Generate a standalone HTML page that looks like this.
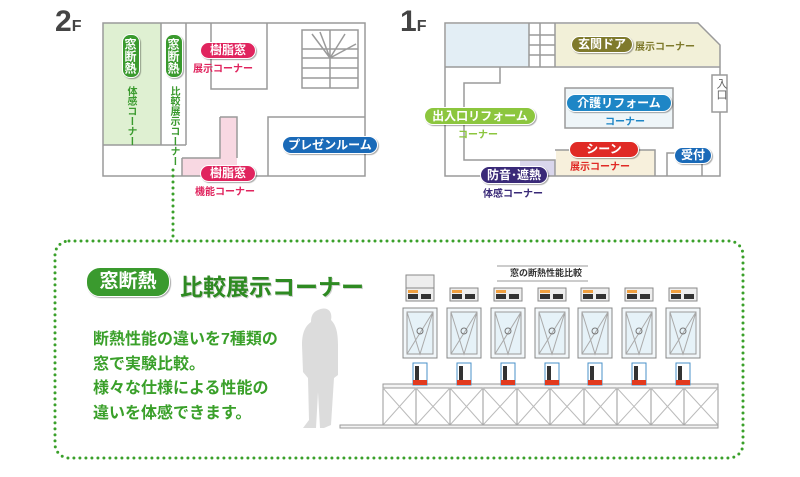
<!DOCTYPE html>
<html><head><meta charset="utf-8"><style>
body{margin:0;width:800px;height:477px;background:#fff;overflow:hidden;position:relative;font-family:"Liberation Sans","Noto Sans CJK JP",sans-serif;}
.a{position:absolute;white-space:nowrap;font-weight:bold;}
.pill{position:absolute;color:#fff;font-weight:bold;border-radius:9px;text-align:center;white-space:nowrap;box-shadow:1px 1px 1px rgba(0,0,0,.35);border:1px solid #fff;}
.v{writing-mode:vertical-rl;text-orientation:upright;}
</style></head><body>
<svg width="800" height="477" style="position:absolute;left:0;top:0">
<rect x="103" y="23" width="58" height="122" fill="#dff0d2"/>
<path d="M220 117 H237 V176 H182 V158 H220 Z" fill="#f8d8e2"/>
<g fill="none" stroke="#9a9a9a" stroke-width="1.5">
<rect x="103" y="23" width="262" height="153"/>
<path d="M103 145 H186 M161 23 V145 M186 23 V145 M211 23 V89 H267 V23 M268 176 V117 H365"/>
<path d="M220 117 H237 V158 M182 158 H220 V117 M182 158 V176"/>
<rect x="302" y="30" width="56" height="58"/>
<path d="M302 49 H358 M302 58 H358 M302 68 H358 M302 78 H358 M330 30 V88 M330 58 L312 34 M330 58 L320 32 M330 58 L345 34 M330 58 L356 44"/>
</g>
<rect x="446" y="24" width="83" height="43" fill="#e3eef5"/>
<path d="M555 24 H698 L720 45 V66 H555 Z" fill="#f2f0d8"/>
<rect x="556" y="150" width="99" height="26" fill="#f7f0dc"/>
<rect x="520" y="160" width="35" height="16" fill="#d9d6ec"/>
<rect x="565" y="88" width="108" height="40" fill="#eef5f8"/>
<g fill="none" stroke="#9a9a9a" stroke-width="1.5">
<path d="M445 23 H698 L720 45 V176 H445 Z"/>
<path d="M445 67 H720 M529 23 V67 M555 23 V67"/>
<path d="M529 35 H555 M529 45 H555 M529 55 H555 M540 23 V67"/>
<path d="M500 67 V83 H464 V160 H555 V176 M555 150 H655 V176 M667 176 V153 H702 V176"/>
<rect x="565" y="88" width="108" height="40"/>
<rect x="712" y="75" width="15" height="37" fill="#fff"/>
</g>
<line x1="173" y1="170" x2="173" y2="240" stroke="#3aa02a" stroke-width="3" stroke-linecap="round" stroke-dasharray="0 6"/>
<rect x="55" y="241" width="688" height="217" rx="14" fill="none" stroke="#3aa02a" stroke-width="3" stroke-linecap="round" stroke-dasharray="0 6"/>
<path d="M318 310 C326 306 333 310 331 320 C335 324 338 330 338 345 L338 375 L334 378 L331 425 L324 428 L320 428 L318 392 L316 428 L303 428 L309 420 L308 378 L303 372 L302 345 C302 330 307 325 311 322 C311 316 313 312 318 310Z" fill="#dcdcdc"/>
<g stroke="#999" fill="none" stroke-width="1">
<line x1="497" y1="266" x2="588" y2="266"/><line x1="497" y1="281" x2="588" y2="281"/>
<rect x="383" y="384" width="335" height="4" fill="#f4f4f4"/>
<path d="M383 388 V425 M416 388 V425 M450 388 V425 M483 388 V425 M517 388 V425 M550 388 V425 M584 388 V425 M617 388 V425 M651 388 V425 M684 388 V425 M718 388 V425"/>
<path stroke="#bbb" d="M383 388 L416 425 M416 388 L383 425 M416 388 L450 425 M450 388 L416 425 M450 388 L483 425 M483 388 L450 425 M483 388 L517 425 M517 388 L483 425 M517 388 L550 425 M550 388 L517 425 M550 388 L584 425 M584 388 L550 425 M584 388 L617 425 M617 388 L584 425 M617 388 L651 425 M651 388 L617 425 M651 388 L684 425 M684 388 L651 425 M684 388 L718 425 M718 388 L684 425"/>
<rect x="340" y="425" width="378" height="3" fill="#f4f4f4"/>
</g>
<g id="w">
<rect x="403" y="308" width="34" height="50" fill="#f2f7fa" stroke="#888"/>
<rect x="407" y="312" width="26" height="42" fill="#e6f2f8" stroke="#999"/>
<path d="M407 354 L433 312 M407 312 L420 354 L433 312" stroke="#aaa" fill="none"/>
<circle cx="420" cy="331" r="3" fill="none" stroke="#777"/>
<rect x="406" y="288" width="28" height="13" fill="#eee" stroke="#888"/>
<rect x="408" y="294" width="10" height="5" fill="#333"/><rect x="421" y="294" width="10" height="5" fill="#333"/>
<rect x="408" y="290" width="10" height="3" fill="#f0a040"/>
<rect x="413" y="363" width="14" height="22" fill="#fff" stroke="#4a90c8"/>
<rect x="415" y="366" width="4" height="14" fill="#333"/>
<rect x="413" y="380" width="14" height="5" fill="#e23a1e"/>
</g>
<use href="#w" x="44"/><use href="#w" x="88"/><use href="#w" x="132"/><use href="#w" x="175"/><use href="#w" x="219"/><use href="#w" x="263"/>
<rect x="406" y="275" width="28" height="13" fill="#eee" stroke="#888"/>
</svg>
<div class="a" style="left:55px;top:5px;font-size:30px;color:#444">2<span style="font-size:16px">F</span></div>
<div class="a" style="left:400px;top:5px;font-size:30px;color:#444">1<span style="font-size:16px">F</span></div>
<div class="pill v" style="left:122px;top:34px;width:16px;padding:3px 0;font-size:12px;background:#3a9a2e;border-radius:8px">窓断熱</div>
<div class="pill v" style="left:165px;top:34px;width:16px;padding:3px 0;font-size:12px;background:#3a9a2e;border-radius:8px">窓断熱</div>
<div class="a v" style="left:124px;top:86px;font-size:10px;color:#3a9a2e;line-height:12px">体感コーナー</div>
<div class="a v" style="left:167px;top:86px;font-size:10px;color:#3a9a2e;line-height:12px">比較展示コーナー</div>
<div class="pill" style="left:200px;top:42px;width:54px;height:15px;line-height:15px;font-size:12px;background:#e0245e">樹脂窓</div>
<div class="a" style="left:193px;top:60px;font-size:10px;color:#e0245e">展示コーナー</div>
<div class="pill" style="left:200px;top:165px;width:54px;height:15px;line-height:15px;font-size:12px;background:#e0245e">樹脂窓</div>
<div class="a" style="left:195px;top:183px;font-size:10px;color:#e0245e">機能コーナー</div>
<div class="pill" style="left:282px;top:136px;width:94px;height:16px;line-height:16px;font-size:12px;background:#1a6ab8">プレゼンルーム</div>
<div class="pill" style="left:571px;top:36px;width:60px;height:15px;line-height:15px;font-size:12px;background:#7f7a2c">玄関ドア</div>
<div class="a" style="left:635px;top:38px;font-size:10px;color:#7f7a2c">展示コーナー</div>
<div class="pill" style="left:566px;top:94px;width:104px;height:16px;line-height:16px;font-size:12px;background:#1e86c6">介護リフォーム</div>
<div class="a" style="left:605px;top:113px;font-size:10px;color:#1e86c6">コーナー</div>
<div class="pill" style="left:424px;top:107px;width:110px;height:16px;line-height:16px;font-size:12px;background:#8cc63e">出入口リフォーム</div>
<div class="a" style="left:458px;top:126px;font-size:10px;color:#8cc63e">コーナー</div>
<div class="pill" style="left:569px;top:141px;width:68px;height:15px;line-height:15px;font-size:12px;background:#e02a25">シーン</div>
<div class="a" style="left:570px;top:158px;font-size:10px;color:#e02a25">展示コーナー</div>
<div class="pill" style="left:674px;top:147px;width:36px;height:15px;line-height:15px;font-size:12px;background:#1a6ab8">受付</div>
<div class="pill" style="left:480px;top:166px;width:66px;height:16px;line-height:16px;font-size:12px;background:#3a2a78">防音･遮熱</div>
<div class="a" style="left:483px;top:185px;font-size:10px;color:#3a2a78">体感コーナー</div>
<div class="a v" style="left:713px;top:78px;font-size:11px;color:#666;font-weight:normal">入口</div>
<div class="pill" style="left:86px;top:267px;width:82px;height:28px;line-height:28px;font-size:19px;background:#3a9a2e;border-radius:14px">窓断熱</div>
<div class="a" style="left:180px;top:268px;font-size:23px;color:#2e8a22;text-shadow:1px 1px 0 #cfcfcf">比較展示コーナー</div>
<div class="a" style="left:93px;top:328px;font-size:16px;line-height:24.6px;color:#3aa02a">断熱性能の違いを7種類の<br>窓で実験比較。<br>様々な仕様による性能の<br>違いを体感できます。</div>
<div class="a" style="left:510px;top:266px;font-size:9px;color:#333">窓の断熱性能比較</div>
</body></html>
